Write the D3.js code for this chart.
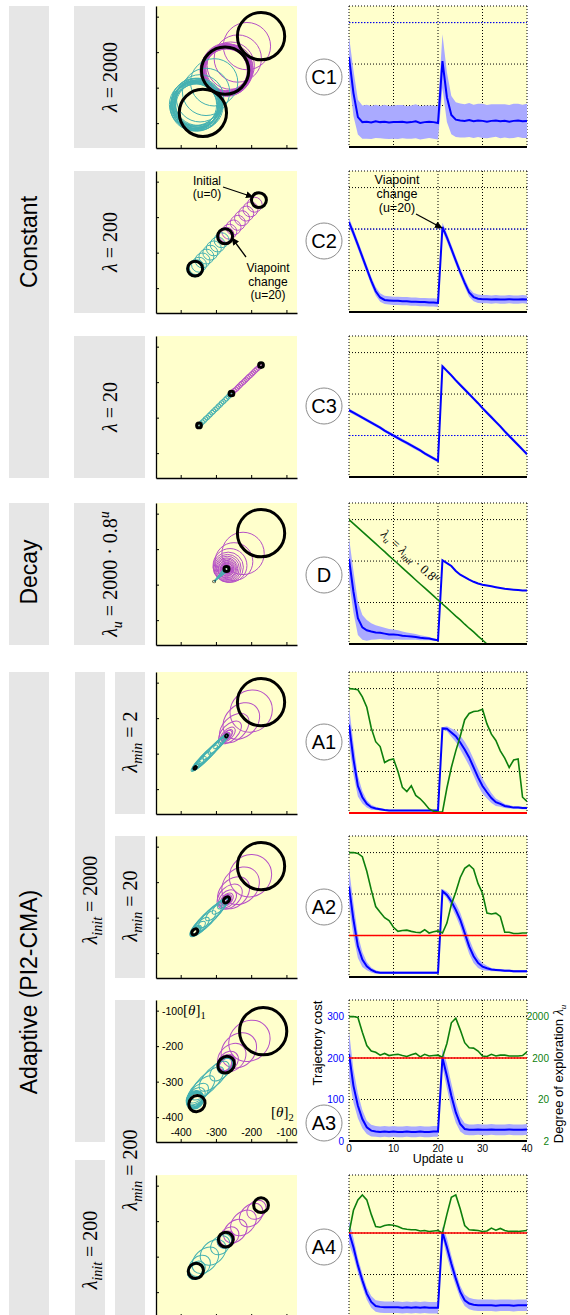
<!DOCTYPE html>
<html>
<head>
<meta charset="utf-8">
<title>Exploration strategies: constant, decay, adaptive</title>
<script src="https://cdn.jsdelivr.net/npm/d3@7/dist/d3.min.js"></script>
<style>
  html, body { margin: 0; padding: 0; background: #fff; }
  svg { display: block; }
</style>
</head>
<body>
<script>
// ======================= data =======================
const updates = d3.range(41);            // update index u = 0..40
const costTicks = [0, 100, 200, 300];
const updateTicks = [0, 10, 20, 30, 40];
const lambdaTicks = [2, 20, 200, 2000];
const thetaTicks = [-400, -300, -200, -100];
const thetaDomain = [-470, -70];

// trajectory cost (mean) and its spread, per update
const costC1 = [217,130,72,60,61,59,62,60,61,59,60,60,61,59,60,62,58,60,61,60,58,
                207,120,77,66,64,63,65,62,64,63,61,63,64,62,63,61,63,64,62,63];
const spreadC1 = [50,55,42,40,41,40,40,39,41,40,40,41,40,39,40,41,40,40,39,40,40,
                  65,60,46,42,41,40,41,40,40,41,40,40,39,41,40,40,41,40,40,41];
const costC2 = [217,190,162,133,104,75,50,35,29,28,27,27,26,26,25,25,24,24,23,23,22,
                205,180,152,124,96,70,47,36,32,31,31,30,31,30,30,31,30,30,31,30];
const spreadC2 = [10,10,10,10,10,10,10,10,10,10,10,10,10,10,10,10,10,10,10,10,10,
                  10,10,10,10,10,10,10,10,10,10,10,10,10,10,10,10,10,10,10,10];
const costC3 = [161,155,149,143,137,131,125,119,112,106,100,94,88,82,76,70,64,57,51,45,39,
                267,256,245,233,222,211,200,189,178,166,155,144,133,122,110,99,88,77,66,55];
const spreadC3 = [4,4,4,4,4,4,4,4,4,4,4,4,4,4,4,4,4,4,4,4,4,
                  4,4,4,4,4,4,4,4,4,4,4,4,4,4,4,4,4,4,4,4];
const costD = [205,126,62,40,33,30,28,27,25,23,23,22,20,19,18,17,15,14,13,11,9,
               202,195,188,176,167,161,155,150,146,143,141,139,137,135,133,132,131,130,129,129];
const spreadD = [52,50,40,30,25,20,17,15,14,13,12,11,10,9,8,7,6,5,4,3,2,
                 1,1,1,1,1,1,1,1,1,1,1,1,1,1,1,1,1,1,1,1];
const costA1 = [213,130,65,38,22,14,11,9,7,6,6,6,6,6,6,6,6,6,6,6,6,
                204,203,194,185,170,153,134,110,86,65,50,36,26,22,17,15,13,13,12,12];
const spreadA1 = [45,38,25,15,9,6,4,3,2,2,2,2,2,2,2,2,2,2,2,2,2,
                  3,6,10,14,17,19,20,20,20,18,15,12,9,7,5,4,3,3,3,3];
const costA2 = [218,138,74,42,26,17,12,10,10,10,10,10,10,10,10,10,10,10,10,10,10,
                207,198,182,162,138,106,74,50,34,25,21,18,17,16,15,15,14,14,14,14];
const spreadA2 = [45,40,28,18,10,6,4,3,3,3,3,3,3,3,3,3,3,3,3,3,3,
                  5,8,12,15,17,18,18,16,12,9,6,4,3,3,3,3,3,3,3,3];
const costA3 = [210,133,85,53,33,25,23,22,23,22,23,22,22,23,22,22,23,22,22,23,23,
                201,157,109,69,41,29,27,27,28,27,27,28,27,27,27,28,27,27,27,28];
const spreadA3 = [55,40,30,22,16,14,13,13,13,13,13,13,13,13,13,13,13,13,13,13,13,
                  22,30,30,25,18,14,13,13,13,13,13,13,13,13,13,13,13,13,13,13];
const costA4 = [202,166,122,86,54,34,24,22,21,21,21,21,20,21,20,21,20,21,20,20,20,
                202,166,126,90,58,38,30,27,26,26,26,26,25,26,26,26,25,26,26,26];
const spreadA4 = [28,22,18,16,15,14,14,14,14,14,14,14,14,14,14,14,14,14,14,14,14,
                  14,22,20,17,15,14,14,14,14,14,14,14,14,14,14,14,14,14,14,14];

// degree of exploration lambda per update
const lambdaC1 = 2000, lambdaC2 = 200, lambdaC3 = 20;
const lambdaDecay = [2000,1600,1280,1024,819,655,524,419,336,268,215,172,137,110,88,70,56,45,36,29,23,
                     18.4,14.8,11.8,9.4,7.6,6.0,4.8,3.9,3.1,2.5,2.0,1.6,1.3,1.0,0.8,0.65,0.52,0.42,0.33,0.27];
const lambdaA1 = [2000,1955,1867,1262,709,224,105,80,33,38,40,20,8.3,6.6,9.1,5.3,4.4,3.4,2.5,2.2,2.1,
                  2.1,8,25,63,142,356,502,563,577,632,282,159,112,63,42,25,38,40,4.8,3.8];
const lambdaA2 = [2000,2000,1910,1589,710,252,100,72.6,53.8,45.8,31.7,25.2,26.4,27,25.2,24,23.5,27.6,23,24.6,25.8,
                  23,39.9,112,224,502,834,1002,796,356,209,69.3,66.2,69.3,57.7,24,24,22.4,22.4,23,23];
const lambdaA3 = [2000,2000,1910,834,399,296,276,235,258,230,241,246,230,219,241,258,214,246,224,230,235,
                  209,448,1416,1824,958,469,356,348,296,224,219,246,224,235,235,224,224,224,230,282];
const lambdaA4 = [200,710,1262,1664,1262,564,289,276,303,317,310,289,258,246,240,240,224,230,219,224,230,
                  200,564,1449,1664,760,303,240,235,230,219,224,264,235,258,230,219,219,219,224,230];
const lambdaMinA1 = 2, lambdaMinA2 = 20, lambdaMinA3 = 200, lambdaMinA4 = 200;

// parameter means [theta2, theta1] per update (u = 0..40)
const centersC1 = [[-172,-155],
  [-212,-183],[-238,-218],[-258,-238],[-266,-246],[-270,-250],[-262,-244],[-275,-255],[-268,-248],[-272,-242],[-278,-252],
  [-265,-250],[-270,-258],[-274,-246],[-268,-254],[-262,-250],[-276,-250],[-270,-244],[-266,-256],[-273,-249],[-274,-252],
  [-305,-285],[-328,-312],[-345,-330],[-352,-345],[-358,-350],[-350,-340],[-362,-355],[-355,-348],[-348,-345],[-360,-342],
  [-355,-356],[-350,-350],[-365,-348],[-358,-340],[-352,-355],[-360,-350],[-347,-352],[-356,-345],[-362,-352],[-337,-371]];
const centersC2 = [[-178,-152],
  [-190,-165],[-202,-178],[-214,-190],[-226,-203],[-238,-216],[-250,-229],[-262,-241],[-270,-250],[-273,-252],[-272,-255],
  [-275,-253],[-273,-251],[-276,-254],[-272,-253],[-274,-256],[-275,-252],[-273,-254],[-276,-255],[-272,-253],[-274,-254],
  [-284,-265],[-295,-277],[-306,-288],[-316,-300],[-327,-311],[-338,-322],[-348,-334],[-355,-341],[-357,-343],[-358,-346],
  [-360,-344],[-358,-345],[-361,-347],[-359,-344],[-357,-346],[-360,-345],[-358,-347],[-361,-344],[-359,-346],[-359,-345]];
const centersC3 = [[-172,-152],
  [-176,-156],[-180,-160],[-185,-164],[-189,-168],[-193,-172],[-197,-176],[-201,-180],[-206,-184],[-210,-188],[-214,-192],
  [-218,-196],[-222,-200],[-227,-204],[-231,-208],[-235,-212],[-239,-216],[-243,-220],[-248,-224],[-252,-228],[-256,-232],
  [-261,-237],[-265,-241],[-270,-246],[-274,-250],[-279,-255],[-284,-259],[-288,-264],[-293,-268],[-297,-273],[-302,-277],
  [-307,-282],[-311,-286],[-316,-291],[-320,-295],[-325,-300],[-330,-304],[-334,-309],[-339,-313],[-343,-318],[-348,-322]];
const centersD = [[-172,-155],
  [-223,-212],[-249,-235],[-260,-246],[-265,-251],[-267,-253],[-268,-254],[-269,-255],[-269,-255],[-269,-256],[-270,-255],
  [-269,-256],[-270,-256],[-269,-255],[-270,-256],[-269,-256],[-270,-256],[-270,-255],[-269,-256],[-270,-256],[-270,-256],
  [-272,-258],[-276,-262],[-279,-265],[-282,-268],[-285,-271],[-287,-273],[-289,-275],[-291,-277],[-293,-279],[-295,-281],
  [-296,-282],[-298,-284],[-299,-285],[-300,-286],[-301,-287],[-302,-288],[-303,-289],[-304,-290],[-304,-290],[-305,-291]];
const centersA1 = [[-172,-155],
  [-200,-180],[-228,-208],[-248,-228],[-260,-240],[-266,-246],[-268,-248],[-269,-249],[-270,-250],[-270,-251],[-271,-250],
  [-270,-250],[-270,-251],[-271,-251],[-270,-250],[-270,-251],[-271,-250],[-270,-250],[-270,-251],[-271,-251],[-270,-250],
  [-271,-251],[-272,-252],[-276,-256],[-280,-260],[-286,-266],[-293,-273],[-302,-282],[-312,-292],[-323,-303],[-333,-313],
  [-341,-321],[-347,-327],[-351,-331],[-354,-334],[-356,-336],[-357,-337],[-358,-338],[-358,-339],[-359,-339],[-359,-340]];
const centersA2 = [[-172,-155],
  [-202,-182],[-230,-210],[-250,-230],[-261,-241],[-267,-247],[-269,-249],[-270,-250],[-271,-250],[-270,-251],[-270,-250],
  [-271,-251],[-270,-250],[-271,-250],[-270,-251],[-270,-250],[-271,-251],[-270,-250],[-271,-250],[-270,-251],[-270,-250],
  [-271,-251],[-274,-254],[-280,-260],[-288,-268],[-298,-278],[-311,-291],[-325,-305],[-337,-317],[-346,-326],[-351,-331],
  [-354,-334],[-356,-336],[-357,-337],[-357,-338],[-358,-338],[-358,-339],[-359,-339],[-359,-340],[-360,-340],[-360,-340]];
const centersA3 = [[-166,-158],
  [-205,-185],[-235,-212],[-255,-232],[-265,-243],[-270,-248],[-272,-252],[-268,-248],[-275,-254],[-271,-249],[-274,-255],
  [-269,-251],[-273,-253],[-276,-250],[-270,-254],[-272,-249],[-274,-252],[-270,-252],[-273,-250],[-271,-254],[-271,-252],
  [-274,-256],[-285,-266],[-305,-285],[-325,-305],[-342,-322],[-352,-335],[-356,-342],[-360,-348],[-357,-350],[-361,-352],
  [-358,-355],[-362,-350],[-359,-353],[-356,-351],[-361,-354],[-358,-352],[-360,-350],[-357,-353],[-359,-351],[-354,-362]];
const centersA4 = [[-172,-155],
  [-185,-168],[-200,-183],[-222,-205],[-245,-228],[-262,-243],[-270,-250],[-272,-252],[-273,-251],[-271,-253],[-272,-252],
  [-274,-253],[-271,-251],[-273,-252],[-272,-254],[-271,-252],[-273,-251],[-272,-253],[-274,-252],[-271,-252],[-272,-252],
  [-276,-256],[-288,-268],[-308,-288],[-330,-310],[-346,-326],[-354,-336],[-357,-340],[-358,-341],[-356,-339],[-357,-342],
  [-359,-340],[-357,-341],[-358,-339],[-356,-341],[-358,-342],[-357,-340],[-359,-341],[-357,-339],[-358,-341],[-357,-340]];

// exploration ellipse semi-axes [along diagonal, across] for the adaptive runs
const axesA1 = [[67,67],
  [62,58],[58,45],[50,32],[40,22],[26,14],[20,10],[18,9],[12,6],[12,6],[12,6],
  [9,5],[6,3],[5,3],[6,3],[5,2.5],[4,2.5],[4,2],[3,2],[3,2],[3,2],
  [3,2],[7,3],[12,4],[18,5],[28,6],[40,8],[48,9],[50,9],[50,10],[52,10],
  [36,8],[26,7],[22,6],[16,5],[13,4],[10,4],[12,4],[12,4],[5,2],[4,2]];
const axesA2 = [[67,67],
  [62,58],[58,48],[52,38],[42,28],[30,20],[22,14],[18,12],[15,10],[14,9],[12,8],
  [10,7],[10,7],[11,7],[10,7],[10,7],[10,7],[11,7],[10,7],[10,7],[10,7],
  [10,7],[12,7],[20,9],[30,11],[42,13],[52,15],[56,16],[50,15],[36,13],[28,11],
  [16,9],[16,9],[16,9],[14,8],[10,7],[10,7],[10,7],[10,7],[10,7],[10,7]];
const axesA3 = [[67,67],
  [62,55],[55,45],[45,35],[32,25],[28,22],[24,18],[25,19],[24,18],[23,18],[25,19],
  [24,18],[24,19],[23,18],[25,18],[24,19],[23,18],[24,18],[25,19],[24,18],[25,22],
  [25,20],[40,22],[55,24],[62,24],[50,22],[38,21],[30,20],[26,20],[25,20],[25,20],
  [24,20],[25,20],[25,19],[24,20],[25,20],[24,19],[25,20],[24,20],[25,20],[24,22]];
const axesA4 = [[21,21],
  [30,24],[38,28],[42,30],[38,28],[30,24],[24,20],[24,20],[25,20],[25,21],[25,20],
  [24,20],[24,20],[24,19],[23,20],[24,20],[23,19],[24,20],[23,19],[24,20],[21,21],
  [21,21],[30,24],[42,30],[44,30],[34,26],[26,21],[24,20],[24,20],[24,20],[23,19],
  [24,20],[25,20],[24,20],[25,20],[24,20],[23,19],[23,19],[23,19],[24,20],[22,21]];

// ======================= drawing =======================
const W = 570, H = 1315;
const SANS = "'Liberation Sans', Arial, Helvetica, sans-serif";
const SERIF = "'Liberation Serif', 'Times New Roman', serif";
const YELLOW = "#ffffcc", GRAY = "#e6e6e6";
const MAGENTA = "#b650c6", CYAN = "#44b1b1", BLUE = "#0000ff", BAND = "#aaaaff",
      GREEN = "#0d7f0d", RED = "#ff0000";

const svg = d3.select("body").append("svg")
  .attr("width", W).attr("height", H)
  .attr("font-family", SANS);

const defs = svg.append("defs");
defs.append("marker").attr("id", "arrowhead")
  .attr("viewBox", "0 0 10 10").attr("refX", 9).attr("refY", 5)
  .attr("markerWidth", 6).attr("markerHeight", 6).attr("orient", "auto")
  .append("path").attr("d", "M0,0.5 L10,5 L0,9.5 z").attr("fill", "#000");

// exploration magnitude -> circle radius in parameter units
const exploreRadius = lam => 1.5 * Math.sqrt(lam);

// ---------- rotated (vertical) labels ----------
function vLabel(cx, cy, parts, size, family) {
  const t = svg.append("text")
    .attr("transform", `translate(${cx + size * 0.35},${cy}) rotate(-90)`)
    .attr("text-anchor", "middle")
    .attr("font-family", family)
    .attr("font-size", size);
  let level = 0;
  parts.forEach(p => {
    const s = t.append("tspan").text(p.t);
    const target = p.sub ? size * 0.25 : p.sup ? -size * 0.4 : 0;
    if (target !== level) { s.attr("dy", target - level); level = target; }
    if (p.i) s.attr("font-style", "italic");
    if (p.sub || p.sup) s.attr("font-size", size * 0.7);
  });
  return t;
}

function box(x, y, w, h) {
  svg.append("rect").attr("x", x).attr("y", y).attr("width", w).attr("height", h).attr("fill", GRAY);
}

// ---------- left column: strategy groups ----------
box(9, 6, 40, 472);
box(9, 503, 40, 142);
box(9, 672, 40, 650);
vLabel(29, 242, [{t: "Constant"}], 23, SANS);
vLabel(29, 572, [{t: "Decay"}], 23, SANS);
vLabel(29, 992, [{t: "Adaptive (PI2-CMA)"}], 23, SANS);

// ---------- parameter columns ----------
box(74, 6, 71, 142);
box(74, 171, 71, 142);
box(74, 336, 71, 142);
box(74, 503, 71, 142);
vLabel(110, 77, [{t: "λ", i: true}, {t: " = 2000"}], 20, SERIF);
vLabel(110, 242, [{t: "λ", i: true}, {t: " = 200"}], 20, SERIF);
vLabel(110, 407, [{t: "λ", i: true}, {t: " = 20"}], 20, SERIF);
vLabel(110, 574, [{t: "λ", i: true}, {t: "u", i: true, sub: true}, {t: " = 2000 · 0.8"}, {t: "u", i: true, sup: true}], 20, SERIF);

box(75, 672, 30, 470);
box(75, 1160, 30, 160);
vLabel(90, 900, [{t: "λ", i: true}, {t: "init", i: true, sub: true}, {t: " = 2000"}], 20, SERIF);
vLabel(90, 1250, [{t: "λ", i: true}, {t: "init", i: true, sub: true}, {t: " = 200"}], 20, SERIF);

box(115, 672, 30, 142);
box(115, 836, 30, 142);
box(115, 1000, 30, 320);
vLabel(130, 742, [{t: "λ", i: true}, {t: "min", i: true, sub: true}, {t: " = 2"}], 20, SERIF);
vLabel(130, 906, [{t: "λ", i: true}, {t: "min", i: true, sub: true}, {t: " = 20"}], 20, SERIF);
vLabel(130, 1170, [{t: "λ", i: true}, {t: "min", i: true, sub: true}, {t: " = 200"}], 20, SERIF);

// ---------- parameter-space panels ----------
function drawScatter(top, centers, shapes, tilt, withLabels) {
  const left = 156, size = 141, hgt = 142;
  const sx = d3.scaleLinear().domain(thetaDomain).range([left, left + size]);
  const sy = d3.scaleLinear().domain(thetaDomain).range([top + hgt, top]);
  const k = size / (thetaDomain[1] - thetaDomain[0]);
  const id = "sclip" + top;
  svg.append("clipPath").attr("id", id).append("rect")
    .attr("x", left).attr("y", top).attr("width", size).attr("height", hgt);
  svg.append("rect").attr("x", left).attr("y", top).attr("width", size).attr("height", hgt).attr("fill", YELLOW);

  const g = svg.append("g").attr("clip-path", `url(#${id})`).attr("fill", "none");
  const put = (idx, color, sw) => g.append("g").selectAll("ellipse").data(idx).join("ellipse")
    .attr("transform", i => `translate(${sx(centers[i][0])},${sy(centers[i][1])}) rotate(${-tilt})`)
    .attr("rx", i => Math.max(0.3, shapes[i][0] * k))
    .attr("ry", i => Math.max(0.3, shapes[i][1] * k))
    .attr("stroke", color).attr("stroke-width", sw);
  put(d3.range(1, 20), MAGENTA, 1);
  put(d3.range(21, 40), CYAN, 1);
  put([0, 20, 40], "#000", 3);

  const fmt = withLabels ? (d => String(d)) : (() => "");
  const ay = svg.append("g").attr("transform", `translate(${left},0)`)
    .call(d3.axisRight(sy).tickValues(thetaTicks).tickSize(3).tickSizeOuter(0).tickFormat(fmt));
  const ax = svg.append("g").attr("transform", `translate(0,${top + hgt})`)
    .call(d3.axisTop(sx).tickValues(thetaTicks).tickSize(3).tickSizeOuter(0).tickFormat(fmt));
  [ay, ax].forEach(a => {
    a.select(".domain").attr("stroke-width", 1.3);
    a.selectAll("text").attr("font-size", 10.5).attr("font-family", SANS).attr("fill", "#000");
  });
  return {sx, sy};
}

function circleShapes(lams) { return lams.map(l => [exploreRadius(l), exploreRadius(l)]); }
const constLams = v => updates.map(() => v);

drawScatter(6, centersC1, circleShapes(constLams(lambdaC1)), 0, false);
drawScatter(171, centersC2, circleShapes(constLams(lambdaC2)), 0, false);
drawScatter(336, centersC3, circleShapes(constLams(lambdaC3)), 0, false);
drawScatter(503, centersD, circleShapes(lambdaDecay), 0, false);
drawScatter(672, centersA1, axesA1, 45, false);
drawScatter(836, centersA2, axesA2, 45, false);
drawScatter(1000, centersA3, axesA3, 45, true);
drawScatter(1175, centersA4, axesA4, 45, false);

// annotations in the lambda = 200 parameter panel
function note(lines, x, y0, step, size) {
  const t = svg.append("text").attr("text-anchor", "middle").attr("font-size", size).attr("fill", "#000");
  lines.forEach((s, i) => t.append("tspan").attr("x", x).attr("y", y0 + i * step).text(s));
}
function arrow(x1, y1, x2, y2) {
  svg.append("line").attr("x1", x1).attr("y1", y1).attr("x2", x2).attr("y2", y2)
    .attr("stroke", "#000").attr("stroke-width", 1.3).attr("marker-end", "url(#arrowhead)");
}
note(["Initial", "(u=0)"], 207, 185, 13, 12);
arrow(223, 187, 253, 197);
note(["Viapoint", "change", "(u=20)"], 268, 272, 13.5, 12);
arrow(246, 257, 232, 238);

// theta axis names on the A3 panel
svg.append("text").attr("x", 183).attr("y", 1015).attr("font-family", SERIF).attr("font-size", 15)
  .call(t => { t.append("tspan").text("[");
               t.append("tspan").attr("font-style", "italic").text("θ");
               t.append("tspan").text("]");
               t.append("tspan").attr("font-size", 10.5).attr("dy", 4).text("1"); });
svg.append("text").attr("x", 271).attr("y", 1117).attr("font-family", SERIF).attr("font-size", 15)
  .call(t => { t.append("tspan").text("[");
               t.append("tspan").attr("font-style", "italic").text("θ");
               t.append("tspan").text("]");
               t.append("tspan").attr("font-size", 10.5).attr("dy", 4).text("2"); });

// ---------- cost / exploration panels ----------
function drawTime(top, cost, spread, opt) {
  const x = d3.scaleLinear().domain([0, 40]).range([349, 527]);
  const y = d3.scaleLinear().domain([0, 340]).range([top + 141, top]);
  const yl = d3.scaleLog().domain([2, 2000]).range([y(0), y(300)]);
  const id = "tclip" + top;
  svg.append("clipPath").attr("id", id).append("rect")
    .attr("x", 349).attr("y", top - 1).attr("width", 178).attr("height", 143);
  svg.append("rect").attr("x", 349).attr("y", top).attr("width", 178).attr("height", 141).attr("fill", YELLOW);

  const grid = svg.append("g").attr("stroke", "#000").attr("stroke-width", 1).attr("stroke-dasharray", "1,2");
  grid.selectAll("line.v").data([0, 10, 20, 30, 40]).join("line")
    .attr("x1", d => x(d)).attr("x2", d => x(d)).attr("y1", top).attr("y2", y(0));
  grid.selectAll("line.h").data([100, 200, 300]).join("line")
    .attr("x1", x(0)).attr("x2", x(40)).attr("y1", d => y(d)).attr("y2", d => y(d));
  grid.append("line").attr("x1", x(0)).attr("x2", x(40)).attr("y1", top).attr("y2", top);

  const g = svg.append("g").attr("clip-path", `url(#${id})`);
  const band = d3.area()
    .x((d, i) => x(i))
    .y0((d, i) => y(Math.max(0, cost[i] - spread[i])))
    .y1((d, i) => y(cost[i] + spread[i]));
  g.append("path").datum(updates).attr("d", band).attr("fill", BAND);

  if (opt.lambdaConst) {
    g.append("line").attr("x1", x(0)).attr("x2", x(40))
      .attr("y1", yl(opt.lambdaConst)).attr("y2", yl(opt.lambdaConst))
      .attr("stroke", BLUE).attr("stroke-width", 1).attr("stroke-dasharray", "1.5,1.5");
  }
  g.append("path").datum(cost)
    .attr("d", d3.line().x((d, i) => x(i)).y(d => y(d)))
    .attr("fill", "none").attr("stroke", BLUE).attr("stroke-width", 2);
  if (opt.lambda) {
    g.append("path").datum(opt.lambda)
      .attr("d", d3.line().x((d, i) => x(i)).y(d => yl(d)))
      .attr("fill", "none").attr("stroke", GREEN).attr("stroke-width", 1.6);
  }
  if (opt.lambdaMin) {
    g.append("line").attr("x1", x(0)).attr("x2", x(40))
      .attr("y1", yl(opt.lambdaMin)).attr("y2", yl(opt.lambdaMin))
      .attr("stroke", RED).attr("stroke-width", 1.6);
  }
  // bottom axis line
  svg.append("line").attr("x1", x(0)).attr("x2", x(40)).attr("y1", y(0)).attr("y2", y(0))
    .attr("stroke", opt.lambdaMin === 2 ? RED : "#000").attr("stroke-width", 2);

  if (opt.axes) {
    svg.append("g").selectAll("text").data(costTicks).join("text")
      .attr("x", 344).attr("y", d => y(d) + 3.5).attr("text-anchor", "end")
      .attr("font-size", 10).attr("fill", BLUE).text(d => d);
    svg.append("g").selectAll("text").data(updateTicks).join("text")
      .attr("x", d => x(d)).attr("y", y(0) + 11).attr("text-anchor", "middle")
      .attr("font-size", 10).attr("fill", "#000").text(d => d);
    svg.append("g").selectAll("text").data(lambdaTicks).join("text")
      .attr("x", 549).attr("y", d => yl(d) + 3.5).attr("text-anchor", "end")
      .attr("font-size", 10).attr("fill", GREEN).text(d => d);
    svg.append("text").attr("x", 438).attr("y", y(0) + 22).attr("text-anchor", "middle")
      .attr("font-size", 12.5).text("Update u");
    svg.append("text").attr("transform", `translate(322,${top + 43}) rotate(-90)`)
      .attr("text-anchor", "middle").attr("font-size", 13).text("Trajectory cost");
    const r = svg.append("text").attr("transform", `translate(563,${top + 74}) rotate(-90)`)
      .attr("text-anchor", "middle").attr("font-size", 13);
    r.append("tspan").text("Degree of exploration  ");
    r.append("tspan").attr("font-family", SERIF).attr("font-style", "italic").attr("font-size", 14).text("λ");
    r.append("tspan").attr("font-family", SERIF).attr("font-style", "italic").attr("font-size", 9).attr("dy", 2.5).text("u");
  }
  return {x, y, yl};
}

function tag(name, cy) {
  svg.append("circle").attr("cx", 324).attr("cy", cy).attr("r", 18)
    .attr("fill", "#fff").attr("stroke", "#8c8c8c").attr("stroke-width", 1);
  svg.append("text").attr("x", 324).attr("y", cy + 7).attr("text-anchor", "middle")
    .attr("font-size", 20).text(name);
}

drawTime(6, costC1, spreadC1, {lambdaConst: lambdaC1});
drawTime(171, costC2, spreadC2, {lambdaConst: lambdaC2});
drawTime(336, costC3, spreadC3, {lambdaConst: lambdaC3});
const tD = drawTime(503, costD, spreadD, {lambda: lambdaDecay});
drawTime(672, costA1, spreadA1, {lambda: lambdaA1, lambdaMin: lambdaMinA1});
drawTime(836, costA2, spreadA2, {lambda: lambdaA2, lambdaMin: lambdaMinA2});
drawTime(1000, costA3, spreadA3, {lambda: lambdaA3, lambdaMin: lambdaMinA3, axes: true});
drawTime(1175, costA4, spreadA4, {lambda: lambdaA4, lambdaMin: lambdaMinA4});

tag("C1", 77); tag("C2", 241); tag("C3", 406); tag("D", 575);
tag("A1", 742); tag("A2", 907); tag("A3", 1123); tag("A4", 1247);

// annotation on the lambda = 200 cost panel
note(["Viapoint", "change", "(u=20)"], 397, 184, 14, 12.5);
arrow(416, 214, 442, 228);

// decay law written along the green line
{
  const p0 = [tD.x(0), tD.yl(lambdaDecay[0])], p1 = [tD.x(20), tD.yl(lambdaDecay[20])];
  const ang = Math.atan2(p1[1] - p0[1], p1[0] - p0[0]) * 180 / Math.PI;
  const u = 12, px = tD.x(u), py = tD.yl(lambdaDecay[u]);
  const t = svg.append("text")
    .attr("transform", `translate(${px + 5},${py - 8}) rotate(${ang})`)
    .attr("text-anchor", "middle").attr("font-family", SERIF).attr("font-size", 13);
  t.append("tspan").attr("font-style", "italic").text("λ");
  t.append("tspan").attr("font-style", "italic").attr("font-size", 9).attr("dy", 3).text("u");
  t.append("tspan").attr("dy", -3).text(" = ");
  t.append("tspan").attr("font-style", "italic").text("λ");
  t.append("tspan").attr("font-style", "italic").attr("font-size", 9).attr("dy", 3).text("init");
  t.append("tspan").attr("dy", -3).text(" · 0.8");
  t.append("tspan").attr("font-style", "italic").attr("font-size", 9).attr("dy", -5).text("u");
}
</script>
</body>
</html>
